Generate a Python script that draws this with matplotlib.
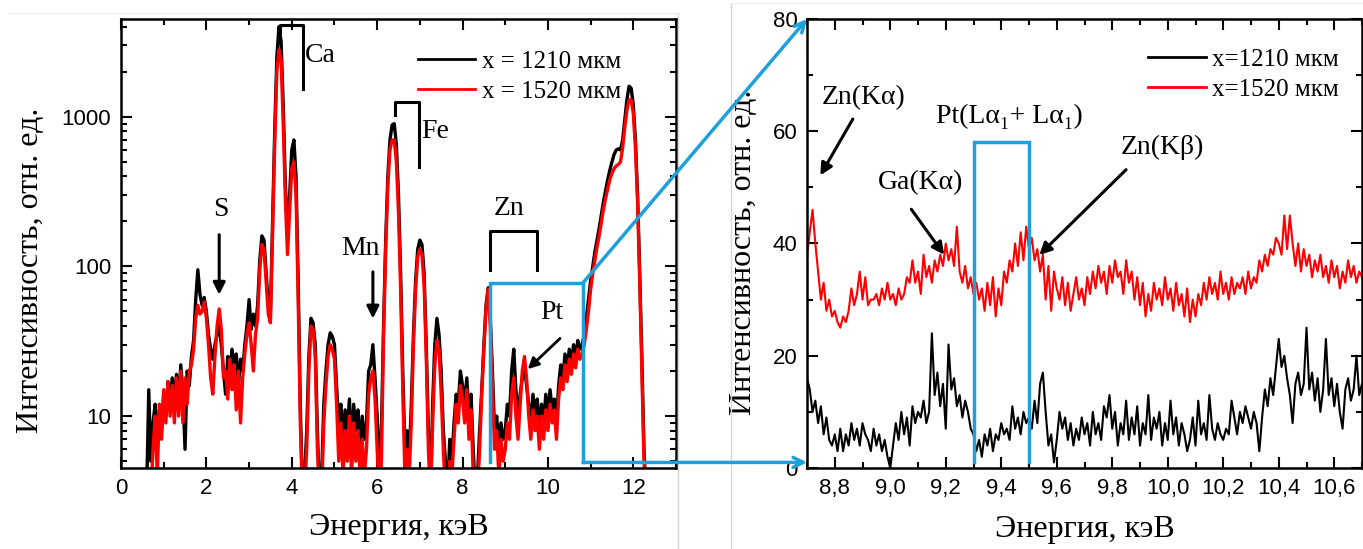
import numpy as np
import matplotlib
matplotlib.use("Agg")
import matplotlib.pyplot as plt
from matplotlib.ticker import MultipleLocator, LogLocator, FuncFormatter, NullFormatter
from matplotlib.patches import ConnectionPatch
from matplotlib.lines import Line2D

# ---------------- data ----------------
# Left panel: full spectrum, channel grid 0.60 .. 12.30 keV, step 0.05 keV
E_START = 0.60
E_STEP = 0.05
spec_1210 = [
    3, 15, 5, 9, 12, 6, 11, 8,
    14, 10, 17, 12, 18, 13, 19, 12, 22, 14, 6, 20, 16, 25, 32, 60, 95, 65, 55, 62,
    50, 35, 28, 24, 30, 35, 40, 30, 20, 14, 25, 20, 28, 22, 26, 16, 24, 20, 30, 40,
    60, 38, 48, 40, 55, 110, 160, 150, 90, 55, 48, 200, 800, 2500, 4000, 3200, 1200, 350, 170, 300,
    600, 700, 400, 80, 12, 3, 4, 8, 25, 45, 42, 30, 8, 3, 4, 12, 20, 30, 36, 34,
    30, 16, 9, 12, 7, 11, 8, 13, 6, 12, 8, 11, 6, 10, 7, 9, 20, 22, 30, 18,
    10, 5, 8, 40, 150, 400, 700, 880, 900, 650, 300, 90, 20, 6, 8, 5, 12, 35, 80, 130,
    150, 140, 90, 30, 8, 3, 12, 30, 45, 35, 20, 8, 5, 3, 7, 5, 9, 14, 12, 20,
    16, 12, 18, 10, 14, 6, 3, 4, 8, 15, 30, 55, 72, 45, 20, 8, 10, 6, 9, 7,
    8, 12, 10, 20, 28, 15, 10, 14, 18, 22, 16, 12, 9, 14, 10, 13, 8, 12, 9, 14,
    10, 15, 11, 13, 9, 16, 22, 18, 26, 20, 28, 22, 30, 25, 32, 28, 30, 35, 45, 60,
    80, 100, 125, 150, 180, 220, 270, 320, 380, 440, 500, 560, 600, 610, 600, 700, 950, 1300, 1600, 1550,
    1200, 700, 300, 90, 25, 6, 3,
]
spec_1520 = [
    3, 4, 3, 6, 10, 4, 12, 7,
    15, 9, 17, 10, 16, 9, 18, 10, 20, 9, 18, 12, 20, 22, 28, 45, 55, 48, 50, 58,
    45, 30, 18, 14, 25, 40, 52, 38, 18, 20, 13, 24, 15, 22, 11, 20, 9, 18, 26, 35,
    42, 30, 20, 35, 45, 95, 140, 130, 80, 48, 42, 170, 650, 2000, 2800, 2400, 900, 280, 120, 230,
    450, 500, 300, 60, 9, 3, 3, 6, 20, 40, 38, 25, 6, 3, 3, 9, 16, 25, 30, 28,
    24, 12, 5, 9, 4, 8, 5, 10, 4, 9, 5, 8, 4, 7, 4, 6, 14, 18, 20, 13,
    6, 3, 5, 35, 130, 350, 600, 700, 700, 500, 230, 70, 15, 4, 6, 4, 9, 30, 70, 115,
    130, 120, 75, 25, 6, 3, 9, 22, 32, 28, 14, 6, 3, 3, 5, 4, 7, 12, 9, 16,
    13, 9, 15, 7, 11, 4, 3, 3, 6, 14, 28, 52, 70, 40, 16, 6, 8, 4, 7, 5,
    6, 9, 7, 14, 18, 10, 7, 12, 20, 25, 18, 10, 7, 11, 8, 10, 6, 10, 7, 11,
    8, 12, 9, 11, 7, 13, 18, 15, 22, 17, 24, 19, 26, 21, 28, 24, 26, 30, 38, 50,
    70, 90, 110, 135, 160, 195, 240, 285, 330, 380, 420, 450, 470, 480, 500, 620, 850, 1100, 1300, 1300,
    1050, 620, 270, 80, 20, 5, 3,
]

# Right panel: zoomed region, channel grid 8.70 .. 10.70 keV, step 0.01 keV
Z_START = 8.70
Z_STEP = 0.01
zoom_1210 = [
    16, 14, 10, 12, 8, 11, 6, 9, 5, 4,
    6, 3, 7, 3, 6, 4, 8, 5, 7, 4,
    8, 6, 5, 3, 7, 4, 6, 3, 5, 2,
    0, 4, 8, 5, 10, 6, 9, 4, 11, 8,
    10, 9, 12, 8, 10, 24, 13, 17, 11, 15,
    7, 22, 14, 16, 11, 13, 9, 12, 10, 7,
    6, 3, 5, 2, 6, 4, 7, 3, 6, 5,
    8, 6, 7, 5, 11, 7, 9, 6, 10, 8,
    9, 7, 12, 8, 15, 17, 10, 4, 6, 1,
    5, 10, 7, 9, 5, 8, 4, 7, 5, 9,
    6, 8, 4, 10, 6, 8, 5, 11, 9, 13,
    7, 10, 4, 8, 6, 12, 5, 9, 6, 11,
    4, 8, 6, 13, 5, 9, 7, 10, 4, 8,
    5, 12, 6, 9, 4, 8, 6, 3, 5, 9,
    4, 12, 6, 8, 5, 13, 7, 5, 8, 6,
    5, 7, 6, 12, 9, 6, 10, 8, 11, 9,
    7, 10, 8, 3, 9, 14, 11, 16, 13, 18,
    23, 18, 20, 16, 13, 8, 15, 17, 13, 15,
    25, 14, 17, 12, 16, 10, 14, 23, 13, 16,
    11, 15, 10, 7, 14, 16, 12, 14, 20, 13,
    15,
]
zoom_1520 = [
    38, 42, 46, 40, 35, 30, 33, 28, 30, 27,
    28, 26, 25, 27, 26, 28, 32, 29, 31, 35,
    30, 34, 29, 30, 30, 31, 29, 32, 30, 33,
    30, 31, 29, 32, 30, 31, 34, 33, 37, 33,
    35, 31, 38, 34, 36, 33, 37, 35, 38, 36,
    40, 37, 39, 36, 43, 35, 33, 36, 32, 34,
    31, 33, 30, 32, 28, 33, 29, 34, 27, 32,
    29, 35, 33, 37, 35, 40, 36, 42, 37, 43,
    39, 41, 37, 39, 35, 38, 30, 36, 28, 35,
    32, 30, 34, 29, 33, 28, 31, 34, 30, 32,
    29, 34, 31, 35, 32, 36, 33, 35, 31, 36,
    33, 37, 34, 35, 31, 37, 33, 35, 30, 34,
    29, 33, 27, 31, 28, 33, 30, 32, 29, 34,
    30, 32, 28, 33, 29, 31, 27, 32, 26, 30,
    27, 31, 29, 33, 30, 34, 31, 33, 30, 35,
    31, 33, 30, 34, 31, 33, 32, 34, 31, 35,
    32, 34, 33, 37, 35, 38, 36, 39, 38, 41,
    40, 38, 45, 39, 45, 40, 36, 40, 35, 39,
    36, 38, 34, 37, 35, 38, 34, 36, 33, 37,
    34, 36, 32, 35, 33, 37, 34, 36, 33, 35,
    34,
]

legend_left = ["x = 1210 мкм", "x = 1520 мкм"]
legend_right = ["x=1210 мкм", "x=1520 мкм"]
xlabel = "Энергия, кэВ"
ylabel = "Интенсивность, отн. ед."

energy = E_START + E_STEP * np.arange(len(spec_1210))
energy_r = E_START + E_STEP * np.arange(len(spec_1520))
ez_b = Z_START + Z_STEP * np.arange(len(zoom_1210))
ez_r = Z_START + Z_STEP * np.arange(len(zoom_1520))

# ---------------- style ----------------
BLUE = "#1EA0DC"
SANS = ["Liberation Sans", "DejaVu Sans"]
SERIF = ["Liberation Serif", "DejaVu Serif"]
plt.rcParams["font.family"] = SANS
plt.rcParams["mathtext.fontset"] = "stix"

W, H = 1363, 549
fig = plt.figure(figsize=(W / 100, H / 100), dpi=100)

def px_rect(x0, y0, x1, y1):
    return [x0 / W, 1 - y1 / H, (x1 - x0) / W, (y1 - y0) / H]

# panel frames (light grey borders of the two source images)
fig.add_artist(Line2D([678 / W, 678 / W], [0, 1 - 13 / H], color="#d8d8d8", lw=1))
fig.add_artist(Line2D([8 / W, 678 / W], [1 - 13 / H, 1 - 13 / H], color="#ececec", lw=1))
fig.add_artist(Line2D([731 / W, 731 / W], [0, 1 - 3 / H], color="#d8d8d8", lw=1))
fig.add_artist(Line2D([731 / W, 1], [1 - 3 / H, 1 - 3 / H], color="#ececec", lw=1))

axL = fig.add_axes(px_rect(121, 19, 676, 468))
axR = fig.add_axes(px_rect(807, 19, 1362, 468))

TICK_FS = 16
LAB_FS = 23
ANN_FS = 20
LEG_FS = 18

for ax in (axL, axR):
    for s in ax.spines.values():
        s.set_linewidth(1.8)
    ax.tick_params(which="both", direction="in", top=True, right=True,
                   labelsize=TICK_FS, width=1.5)
    ax.tick_params(which="major", length=8, pad=7)
    ax.tick_params(which="minor", length=4.5)

# ---------------- left panel ----------------
axL.plot(energy, spec_1210, color="black", lw=2.4, label=legend_left[0])
axL.plot(energy_r, spec_1520, color="red", lw=2.4, label=legend_left[1])
axL.set_yscale("log")
axL.set_xlim(0, 13)
axL.set_ylim(4.5, 4500)
axL.xaxis.set_major_locator(MultipleLocator(2))
axL.xaxis.set_minor_locator(MultipleLocator(1))
axL.yaxis.set_major_locator(LogLocator(base=10))
axL.yaxis.set_minor_locator(LogLocator(base=10, subs=np.arange(2, 10)))
axL.yaxis.set_major_formatter(FuncFormatter(lambda v, p: f"{int(round(v))}"))
axL.yaxis.set_minor_formatter(NullFormatter())
axL.set_xlabel(xlabel, family=SERIF, fontsize=LAB_FS)
axL.set_ylabel(ylabel, family=SERIF, fontsize=LAB_FS)
axL.yaxis.set_label_coords(-0.137, 0.44)
axL.xaxis.set_label_coords(0.5, -0.1)

legL = axL.legend(loc="upper left", bbox_to_anchor=(0.535, 0.93), frameon=False,
                  prop={"family": SERIF, "size": LEG_FS}, handlelength=2.3,
                  handletextpad=0.25, labelspacing=0.3, borderpad=0, borderaxespad=0)
for h in legL.get_lines():
    h.set_linewidth(2)

kw_txt = dict(family=SERIF, fontsize=ANN_FS)
# Ca bracket
axL.plot([3.72, 3.72, 4.26, 4.26], [3660, 4110, 4110, 1524], color="black", lw=2.2)
axL.text(4.31, 2570, "Ca", va="center", ha="left", **kw_txt)
# Fe bracket
axL.plot([6.42, 6.42, 6.98, 6.98], [1025, 1246, 1246, 464], color="black", lw=2.2)
axL.text(7.04, 800, "Fe", va="center", ha="left", **kw_txt)
# Zn bracket
axL.plot([8.64, 8.64, 9.75, 9.75], [95, 173, 173, 95], color="black", lw=2.2)
axL.text(9.1, 245, "Zn", va="center", ha="center", **kw_txt)
# S, Mn, Pt
axL.text(2.35, 240, "S", va="center", ha="center", **kw_txt)
axL.annotate("", xy=(2.30, 62), xytext=(2.30, 170),
             arrowprops=dict(arrowstyle="-|>", color="black", lw=2.2, mutation_scale=18))
axL.text(5.6, 131, "Mn", va="center", ha="center", **kw_txt)
axL.annotate("", xy=(5.90, 43), xytext=(5.90, 96),
             arrowprops=dict(arrowstyle="-|>", color="black", lw=2.2, mutation_scale=18))
axL.text(10.1, 49, "Pt", va="center", ha="center", **kw_txt)
axL.annotate("", xy=(9.48, 20), xytext=(10.33, 34),
             arrowprops=dict(arrowstyle="-|>", color="black", lw=2.0, mutation_scale=16))
# zoom box
axL.plot([8.64, 8.64, 10.82, 10.82], [4.9, 77.6, 77.6, 4.9], color=BLUE, lw=2.5, zorder=5,
         solid_joinstyle="miter")

# ---------------- right panel ----------------
axR.plot(ez_b, zoom_1210, color="black", lw=1.5, label=legend_right[0])
axR.plot(ez_r, zoom_1520, color="red", lw=1.5, label=legend_right[1])
axR.set_xlim(8.7, 10.7)
axR.set_ylim(0, 80)
axR.xaxis.set_major_locator(MultipleLocator(0.2))
axR.xaxis.set_minor_locator(MultipleLocator(0.1))
axR.yaxis.set_major_locator(MultipleLocator(20))
axR.yaxis.set_minor_locator(MultipleLocator(10))
axR.xaxis.set_major_formatter(FuncFormatter(lambda v, p: f"{v:.1f}".replace(".", ",")))
axR.yaxis.set_major_formatter(FuncFormatter(lambda v, p: f"{int(round(v))}"))
axR.set_xlabel(xlabel, family=SERIF, fontsize=LAB_FS)
axR.set_ylabel(ylabel, family=SERIF, fontsize=LAB_FS)
axR.yaxis.set_label_coords(-0.088, 0.48)
axR.xaxis.set_label_coords(0.5, -0.105)

legR = axR.legend(loc="upper left", bbox_to_anchor=(0.615, 0.935), frameon=False,
                  prop={"family": SERIF, "size": LEG_FS}, handlelength=2.3,
                  handletextpad=0.25, labelspacing=0.3, borderpad=0, borderaxespad=0)
for h in legR.get_lines():
    h.set_linewidth(2)

axR.plot([9.30, 9.30, 9.50, 9.50], [1, 58, 58, 1], color=BLUE, lw=2.5, zorder=5,
         solid_joinstyle="miter")
axR.text(8.905, 66, "Zn(Kα)", va="center", ha="center", **kw_txt)
axR.annotate("", xy=(8.743, 51.7), xytext=(8.87, 62.6),
             arrowprops=dict(arrowstyle="-|>", color="black", lw=2.2, mutation_scale=18))
axR.text(9.11, 50.8, "Ga(Kα)", va="center", ha="center", **kw_txt)
axR.annotate("", xy=(9.20, 37.6), xytext=(9.07, 46.5),
             arrowprops=dict(arrowstyle="-|>", color="black", lw=2.2, mutation_scale=18))
axR.text(9.43, 62.6, "Pt(Lα₁+ Lα₁)", va="center", ha="center", **kw_txt)
axR.text(9.98, 57.2, "Zn(Kβ)", va="center", ha="center", **kw_txt)
axR.annotate("", xy=(9.53, 37.6), xytext=(9.857, 53.5),
             arrowprops=dict(arrowstyle="-|>", color="black", lw=2.2, mutation_scale=18))

# ---------------- connecting arrows ----------------
con1 = ConnectionPatch(xyA=(10.82, 77.6), coordsA=axL.transData,
                       xyB=(8.7, 80), coordsB=axR.transData,
                       arrowstyle="->", color=BLUE, lw=2.5, mutation_scale=18, zorder=10)
fig.add_artist(con1)
con2 = ConnectionPatch(xyA=(10.82, 4.9), coordsA=axL.transData,
                       xyB=(8.7, 1.0), coordsB=axR.transData,
                       arrowstyle="->", color=BLUE, lw=2.5, mutation_scale=18, zorder=10)
fig.add_artist(con2)

fig.savefig("out.png", dpi=100)
